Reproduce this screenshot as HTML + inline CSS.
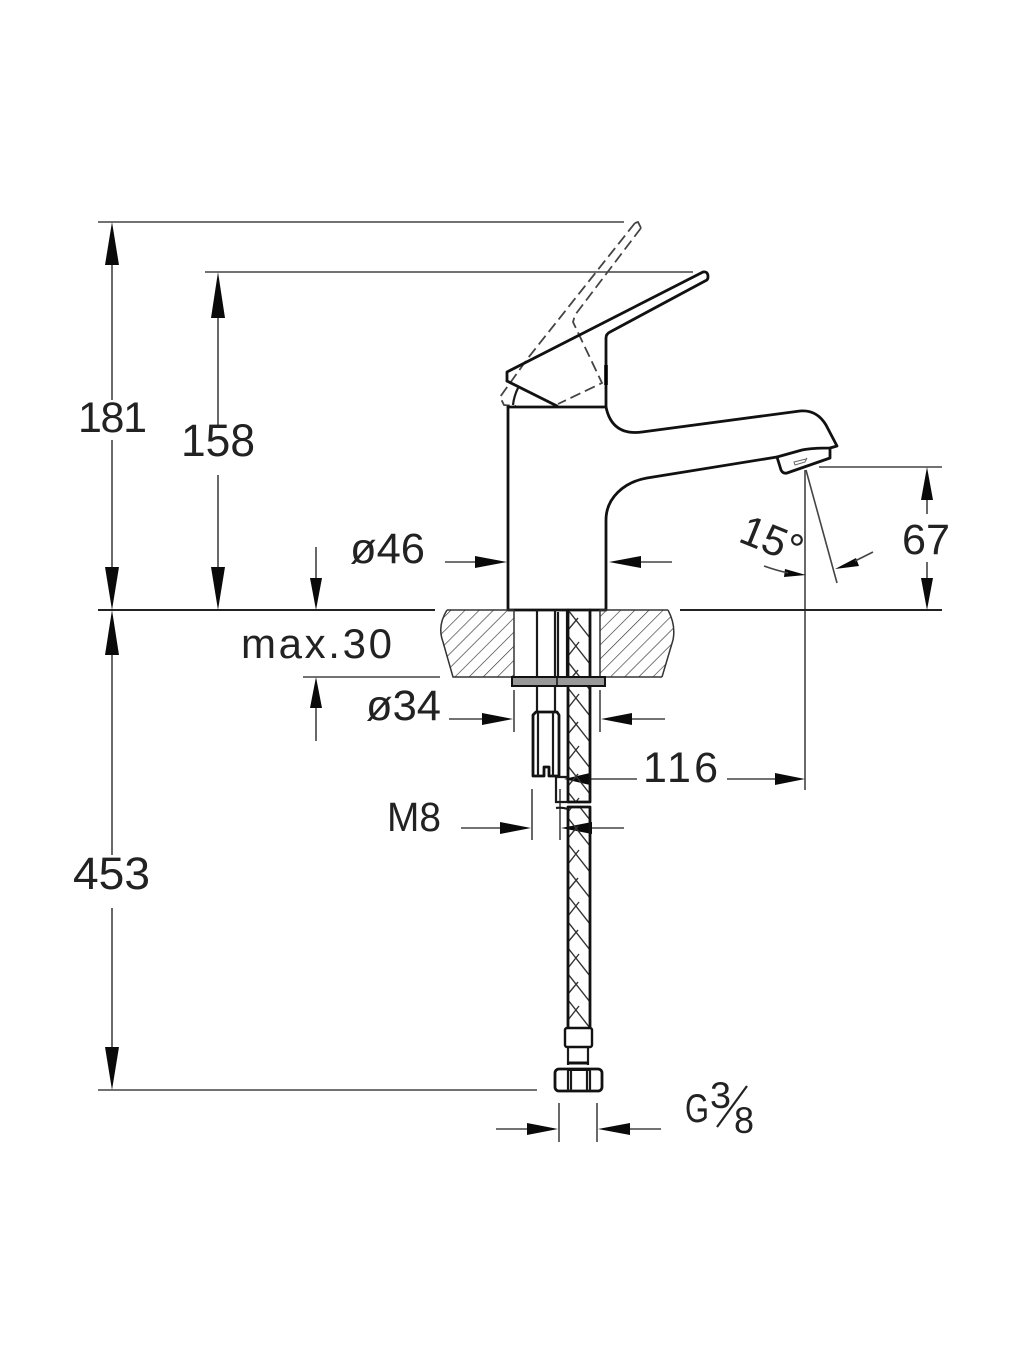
<!DOCTYPE html>
<html><head><meta charset="utf-8"><style>
html,body{margin:0;padding:0;background:#fff}
svg{display:block;filter:blur(.35px)}
text{font-family:"Liberation Sans",sans-serif;fill:#222}
.d{stroke:#444;stroke-width:1.6;fill:none}
.k{stroke:#111;stroke-width:2.8;fill:none;stroke-linejoin:round;stroke-linecap:round}
.m{stroke:#1a1a1a;stroke-width:2.2;fill:none}
.h{stroke:#333;stroke-width:1.5;fill:none}
.a{fill:#0a0a0a;stroke:none}
.da{stroke:#444;stroke-width:1.8;fill:none;stroke-dasharray:11 5}
</style></head><body>
<svg width="1024" height="1365" viewBox="0 0 1024 1365" xmlns="http://www.w3.org/2000/svg">
<defs>
<pattern id="hatch" width="10" height="10" patternUnits="userSpaceOnUse" patternTransform="rotate(45)">
<line x1="0" y1="0" x2="0" y2="10" stroke="#333" stroke-width="1.3"/>
</pattern>
<pattern id="braid" x="568" y="610" width="22" height="52" patternUnits="userSpaceOnUse">
<path d="M0 -26L22 2M0 0L22 28M0 26L22 54M0 52L22 80M0 20L10 8M0 46L11 32" stroke="#333" stroke-width="1.4" fill="none"/>
</pattern>
</defs>

<!-- extension lines -->
<path class="d" d="M98 222H624M205 272H693M303 677H440M98 1090H537M819 467H942M805 470V790"/>
<path stroke="#222" stroke-width="2" fill="none" d="M98 610H435M680 610H942"/>
<path class="d" d="M806 470L837 583"/>
<!-- vertical dims -->
<path class="d" d="M112 260V400M112 440V570M218 312V425M218 475V570M316 547V580M316 705V741M112 650V855M112 908V1050M927 498V514M927 562V580"/>
<g class="a">
<polygon points="112,222 105,265 119,265"/><polygon points="112,610 105,567 119,567"/>
<polygon points="218,272 211,318 225,318"/><polygon points="218,610 211,567 225,567"/>
<polygon points="316,610 310,578 322,578"/><polygon points="316,677 310,708 322,708"/>
<polygon points="112,610 105,655 119,655"/><polygon points="112,1090 105,1047 119,1047"/>
<polygon points="927,467 921,500 933,500"/><polygon points="927,610 921,578 933,578"/>
</g>
<!-- horizontal dims -->
<path class="d" d="M445 562H478M640 562H672M449 719H484M630 719H665M514 690V732M600 690V732M590 779H637M727 779H778M461 828H503M590 828H624M532 789V840M560 789V840M496 1129H530M628 1129H661M559 1103V1142M597 1103V1142"/>
<g class="a">
<polygon points="507,562 475,556 475,568"/><polygon points="609,562 641,556 641,568"/>
<polygon points="513,719 482,713 482,725"/><polygon points="601,719 632,713 632,725"/>
<polygon points="564,779 590,773 590,785"/><polygon points="805,779 775,773 775,785"/>
<polygon points="531,828 500,822 500,834"/><polygon points="561,828 592,822 592,834"/>
<polygon points="558,1129 527,1123 527,1135"/><polygon points="598,1129 630,1123 630,1135"/>
<polygon points="835,569 856,558 859,566"/><polygon points="806,575 785,569 784,577"/>
</g>
<path class="d" d="M855 561L873 552M764 566Q775 570 788 573"/>

<!-- dashed handle -->
<path class="da" d="M635 223L528 358L500 397L504 405L516 406"/>
<path class="da" d="M641 228L575 315L573 322L602 383L558 404"/>
<path d="M635 223L638 222L641 228" stroke="#444" stroke-width="1.8" fill="none"/>

<!-- handle -->
<path class="k" d="M507 381V372L703 272Q708 271 708 277Q708 280 705 281L610 332Q606 334 606 338V406"/>
<path class="k" d="M507 381L557 406"/>
<path class="m" d="M518 388Q514 396 513 405"/>
<path d="M606 365V385" stroke="#000" stroke-width="3.6"/>
<!-- body -->
<path class="k" d="M508 407H606"/>
<path class="k" d="M508 407V610H606V520C606 498 624 482 647 478L777 457L802 450Q812 448 830 448L837 446L826 425C820 415 812 410 800 411L642 432Q612 436 606 407"/>
<path class="k" d="M777 457L781 470Q783 474 787 473L830 458V448" stroke-width="2.4"/>
<path d="M795 465L794 462L806 459L807 458L805 462Z" stroke="#666" stroke-width="1" fill="none"/>

<!-- counter / hatch -->
<path d="M447 610Q437 626 443 642L453 677H514V610Z" fill="url(#hatch)"/>
<path d="M600 610V677H662L673 640Q676 625 668 610Z" fill="url(#hatch)"/>
<path class="h" d="M447 610Q437 626 443 642L453 677H514V610M600 677V610M662 677L673 640Q676 625 668 610M447 610H514M600 610H668M453 677H514M600 677H662"/>

<!-- tubes -->
<path class="m" d="M537 610V712M555 610V712M558 612V677M567 610V677"/>
<path d="M568 610H590V802H568Z" fill="url(#braid)"/>
<path d="M568 807H590V1028H568Z" fill="url(#braid)"/>
<path class="k" stroke-width="2.4" d="M568 610V802M590 610V802H568M568 807V1028M590 807V1028M568 807H590"/>
<path class="m" d="M556 777V802H568M556 808Q562 807 568 809"/>
<!-- washer -->
<rect x="512" y="677" width="93" height="9" fill="#999" stroke="#111" stroke-width="2"/>
<path d="M557 677V686" stroke="#111" stroke-width="1.5"/>
<!-- nut M8 block -->
<path class="k" d="M533 715L536 712H557L559 715V776H549V767H544V776H533Z" stroke-width="2.4"/>
<path class="m" d="M538 712V776M553 712V776M556 777H568"/>
<!-- connector -->
<rect x="565" y="1028" width="27" height="19" rx="2" fill="#fff" stroke="#111" stroke-width="2.4"/>
<path class="m" d="M568 1047V1065M588 1047V1065"/>
<path d="M567 1063H589" stroke="#111" stroke-width="3"/>
<rect x="555" y="1069" width="47" height="22" rx="4" fill="#fff" stroke="#111" stroke-width="2.8"/>
<path class="m" d="M568 1069V1091M571 1069V1091M587 1069V1091M590 1069V1091"/>
<path d="M568 1070H590" stroke="#111" stroke-width="2"/>

<!-- labels -->
<text x="78" y="432" font-size="43" textLength="69">181</text>
<text x="181" y="456" font-size="45" textLength="74" lengthAdjust="spacingAndGlyphs">158</text>
<text x="73" y="889" font-size="45" textLength="77" lengthAdjust="spacingAndGlyphs">453</text>
<text x="350" y="563" font-size="43" textLength="75" lengthAdjust="spacingAndGlyphs">ø46</text>
<text x="366" y="720" font-size="43" textLength="75" lengthAdjust="spacingAndGlyphs">ø34</text>
<text x="241" y="658" font-size="42" textLength="151">max.30</text>
<text x="643" y="782" font-size="43" textLength="75">116</text>
<text x="387" y="831" font-size="41" textLength="54" lengthAdjust="spacingAndGlyphs">M8</text>
<text x="902" y="554" font-size="43" textLength="48" lengthAdjust="spacingAndGlyphs">67</text>
<text font-size="42" transform="translate(737 541) rotate(22)">15°</text>
<text x="685" y="1122" font-size="40" textLength="24" lengthAdjust="spacingAndGlyphs">G</text>
<text x="710" y="1108" font-size="37" textLength="21" lengthAdjust="spacingAndGlyphs">3</text>
<text x="734" y="1133" font-size="37" textLength="20" lengthAdjust="spacingAndGlyphs">8</text>
<path d="M717 1127L747 1086" stroke="#222" stroke-width="2.2"/>
</svg>
</body></html>
